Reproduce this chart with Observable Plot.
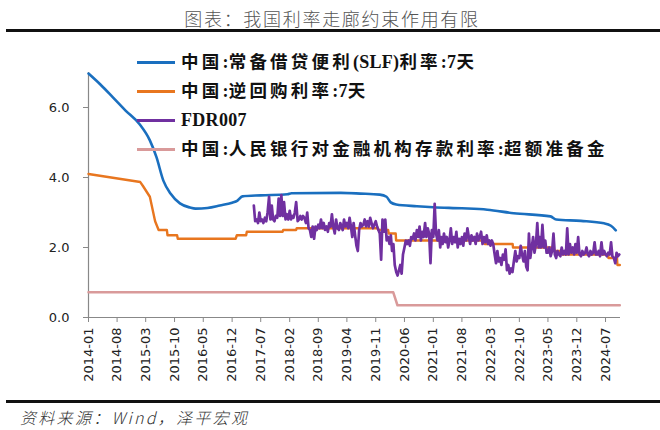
<!DOCTYPE html>
<html>
<head>
<meta charset="utf-8">
<script src="https://cdn.jsdelivr.net/npm/d3@7"></script>
<script src="https://cdn.jsdelivr.net/npm/@observablehq/plot@0.6"></script>
<style>
  html, body { margin: 0; padding: 0; background: #fff; }
  #wrap { position: relative; width: 660px; height: 430px; overflow: hidden; background: #fff; }
  #title { position: absolute; left: 0; width: 664px; top: 6px; text-align: center; font-family: "Noto Sans CJK SC", sans-serif; font-weight: 300; font-size: 18px; letter-spacing: 1.7px; color: #555; line-height: 24px; }
  .rule { position: absolute; left: 6px; width: 654px; height: 3px; background: #111; }
  #chart { position: absolute; left: 0; top: 34px; }
  #legend { position: absolute; left: 0; top: 0; }
  .lg-line { position: absolute; left: 137px; width: 38px; height: 3px; }
  .lg-text { position: absolute; left: 181px; font-family: "Liberation Serif", "Noto Sans CJK SC", serif; font-weight: bold; font-size: 18px; line-height: 22px; color: #111; white-space: nowrap; }
  .cjk { letter-spacing: 3.2px; font-size: 17.5px; }
  .lat { letter-spacing: 0.3px; }
  #source { position: absolute; left: 20px; top: 406px; font-family: "Noto Sans CJK SC", sans-serif; font-style: italic; font-weight: 300; font-size: 16px; letter-spacing: 2.3px; color: #333; line-height: 22px; }
</style>
</head>
<body>
<div id="wrap">
  <div id="title">图表：我国利率走廊约束作用有限</div>
  <div class="rule" style="top:29px"></div>
  <div id="chart"></div>
  <div id="legend"></div>
  <div class="rule" style="top:400px"></div>
  <div id="source">资料来源：Wind，泽平宏观</div>
</div>
<script>
// ---------- data ----------
const seriesNames = [
  "中国:常备借贷便利(SLF)利率:7天",
  "中国:逆回购利率:7天",
  "FDR007",
  "中国:人民银行对金融机构存款利率:超额准备金"
];
const seriesColors = ["#1A6FBF", "#E8761F", "#7030A0", "#D99A9A"];

const xTickLabels = ["2014-01","2014-08","2015-03","2015-10","2016-05","2016-12","2017-07",
  "2018-02","2018-09","2019-04","2019-11","2020-06","2021-01","2021-08","2022-03",
  "2022-10","2023-05","2023-12","2024-07"];
const yTicks = [0, 2, 4, 6];

// SLF 7-day
const slfDates = ["2014-01-01","2014-04-01","2014-07-01","2014-10-01","2015-01-15","2015-04-01",
  "2015-05-20","2015-07-10","2015-09-01","2015-11-10","2016-01-25","2016-03-05","2016-06-01",
  "2016-09-01","2016-12-01","2017-01-10","2017-02-15","2017-07-01","2018-01-15","2018-02-15",
  "2019-02-15","2019-07-10","2019-12-01","2020-01-20","2020-02-20","2020-04-01","2020-09-01",
  "2021-01-01","2021-08-01","2022-02-05","2022-08-20","2023-05-20","2023-07-01","2024-01-01",
  "2024-06-20","2024-08-10","2024-09-15"];
const slfValues = [6.97,6.65,6.29,5.92,5.52,5.06,4.58,3.91,3.54,3.26,3.14,3.11,3.13,
  3.20,3.28,3.34,3.46,3.49,3.52,3.55,3.56,3.54,3.51,3.45,3.29,3.23,3.18,
  3.15,3.12,3.08,2.98,2.89,2.80,2.76,2.69,2.62,2.49];

// Reverse repo 7-day
const rrDates = ["2014-01-01","2015-01-20","2015-02-10","2015-04-01","2015-05-10","2015-06-05",
  "2015-08-05","2015-08-10","2015-10-20","2015-10-25","2016-12-27","2017-01-05","2017-03-15",
  "2017-03-20","2017-12-10","2017-12-15","2018-03-20","2018-03-25","2019-11-15","2019-11-20",
  "2020-02-01","2020-02-05","2020-03-28","2020-03-31","2022-01-15","2022-01-18","2022-08-12",
  "2022-08-15","2023-06-10","2023-06-13","2023-08-12","2023-08-15","2024-07-20","2024-07-22",
  "2024-09-24","2024-09-27","2024-10-15"];
const rrValues = [4.10,3.87,3.75,3.45,2.75,2.50,2.50,2.35,2.35,2.25,2.25,2.35,2.35,
  2.45,2.45,2.50,2.50,2.55,2.55,2.50,2.50,2.40,2.40,2.20,2.20,2.10,2.10,
  2.00,2.00,1.90,1.90,1.80,1.80,1.70,1.70,1.50,1.50];

// Excess reserve rate
const irerDates = ["2014-01-01","2020-03-10","2020-04-10","2024-10-15"];
const irerValues = [0.72, 0.72, 0.35, 0.35];

// FDR007, three readings per month (days 1, 11, 21) from 2017-05-11
const fdrStart = "2017-05";
const fdrValues = [
  3.20, 2.75,
  2.80, 2.70, 3.00,   2.75, 2.80, 2.70,   2.85, 2.75, 3.00,   3.45, 2.80, 3.20,
  2.80, 2.75, 2.90,   2.85, 3.40, 2.90,   3.50, 2.90, 3.30,
  2.80, 2.95, 2.80,   3.05, 2.80, 2.90,   2.85, 3.00, 3.30,   2.75, 2.80, 2.90,
  2.80, 2.90, 2.85,   2.70, 3.00, 2.55,   2.50, 2.30, 2.60,   2.25, 2.60, 2.50,
  2.65, 2.55, 2.80,   2.55, 2.70, 2.50,   2.60, 2.45, 2.70,   2.60, 2.95, 2.60,
  2.40, 2.80, 2.55,   2.50, 2.70, 2.60,   2.50, 2.80, 2.60,   2.70, 2.55, 2.85,
  2.60, 2.30, 2.70,   2.35, 2.05, 1.90,   2.50, 2.70, 2.60,   2.65, 2.80, 2.60,
  2.75, 2.60, 2.85,   2.70, 2.55, 2.65,   2.75, 2.60, 2.50,   2.40, 1.65, 2.80,
  2.45, 2.80, 2.20,   2.30, 2.10, 2.35,   1.90, 2.10, 1.50,   1.30, 1.20, 1.35,
  1.50, 1.25, 1.80,   2.00, 2.20, 2.10,   2.20, 2.05, 2.30,   2.25, 2.40, 2.20,
  2.50, 2.30, 2.60,   2.20, 2.45, 2.30,   2.70, 2.30, 2.55,   2.40, 1.55, 2.50,
  2.30, 3.25, 2.40,   2.20, 2.50, 2.00,   2.30, 2.10, 2.40,   2.15, 2.30, 2.00,
  2.20, 2.55, 2.10,   2.30, 2.15, 2.45,   2.00, 2.25, 2.10,   2.30, 2.05, 2.40,
  2.20, 2.55, 2.30,   2.10, 2.35, 2.20,   2.30, 2.10, 2.40,   2.20, 2.30, 2.45,
  2.10, 2.30, 2.15,   2.35, 2.10, 2.20,   2.05, 2.20, 2.10,   1.80, 1.55, 1.90,
  1.60, 1.70, 1.50,   1.80, 1.65, 1.95,   1.35, 1.50, 1.25,   1.40, 1.30, 1.60,
  1.90, 1.60, 1.75,   1.70, 2.05, 1.80,   1.60, 1.90, 1.45,   1.35, 2.40, 1.70,
  2.00, 2.30, 1.85,   2.10, 2.70, 2.00,   2.30, 2.00, 2.65,   2.00, 2.20, 1.85,
  1.85, 2.00, 1.75,   1.90, 2.40, 1.80,   1.70, 1.90, 1.80,   1.75, 2.00, 1.80,
  1.90, 1.80, 2.55,   1.80, 2.10, 1.85,   2.00, 1.80, 2.10,   1.85, 2.30, 1.80,
  1.75, 1.90, 1.80,   1.85, 2.00, 1.80,   1.75, 1.90, 1.80,   1.85, 2.15, 1.80,
  1.80, 1.90, 1.75,   2.15, 1.80, 1.90,   1.80, 1.75, 1.85,   1.80, 2.15, 1.75,
  1.70, 1.55, 1.85,   1.75, 1.80
];

// ---------- build tables ----------
const parse = d3.utcParse("%Y-%m-%d");
const parseM = d3.utcParse("%Y-%m");
const rows = [];
slfDates.forEach((d, i) => rows.push({date: parse(d), value: slfValues[i], s: seriesNames[0]}));
rrDates.forEach((d, i) => rows.push({date: parse(d), value: rrValues[i], s: seriesNames[1]}));
const fs = parseM(fdrStart);
fdrValues.forEach((v, i) => {
  const k = i + 1;
  const dt = new Date(Date.UTC(fs.getUTCFullYear(), fs.getUTCMonth() + Math.floor(k / 3), 1 + 10 * (k % 3)));
  rows.push({date: dt, value: v, s: seriesNames[2]});
});
irerDates.forEach((d, i) => rows.push({date: parse(d), value: irerValues[i], s: seriesNames[3]}));

const xStart = parse("2014-01-01"), xEnd = parse("2024-10-20");
const tickDates = xTickLabels.map(parseM);

const chart = Plot.plot({
  width: 660,
  height: 363,
  marginLeft: 88,
  marginRight: 40,
  marginTop: 38,
  marginBottom: 80,
  style: {fontFamily: "DejaVu Sans, sans-serif", fontSize: "13px", color: "#222", background: "transparent"},
  x: {type: "utc", domain: [xStart, xEnd]},
  y: {domain: [0, 7]},
  marks: [
    Plot.axisY({ticks: yTicks, tickFormat: d => d.toFixed(1), tickSize: 5, tickPadding: 14, stroke: "#888", label: null}),
    Plot.axisX({ticks: tickDates, tickFormat: d3.utcFormat("%Y-%m"), tickRotate: -90, tickSize: 5, tickPadding: 5, stroke: "#888", label: null}),
    Plot.ruleX([xStart], {y1: 0, y2: 7, stroke: "#888", strokeWidth: 1.2}),
    Plot.ruleY([0], {stroke: "#888", strokeWidth: 1.2}),
    Plot.line(rows.filter(d => d.s === seriesNames[3]), {x: "date", y: "value", stroke: seriesColors[3], strokeWidth: 2.5}),
    Plot.line(rows.filter(d => d.s === seriesNames[0]), {x: "date", y: "value", stroke: seriesColors[0], strokeWidth: 2.6, curve: "monotone-x"}),
    Plot.line(rows.filter(d => d.s === seriesNames[1]), {x: "date", y: "value", stroke: seriesColors[1], strokeWidth: 2.4}),
    Plot.line(rows.filter(d => d.s === seriesNames[2]), {x: "date", y: "value", stroke: seriesColors[2], strokeWidth: 2.7, strokeLinejoin: "round"})
  ]
});
document.getElementById("chart").appendChild(chart);

// ---------- legend ----------
const legend = document.getElementById("legend");
const rowY = [62, 91, 120, 149];
seriesNames.forEach((name, i) => {
  const ln = document.createElement("div");
  ln.className = "lg-line";
  ln.style.top = (rowY[i] - 1.5) + "px";
  ln.style.background = seriesColors[i];
  legend.appendChild(ln);
  const tx = document.createElement("div");
  tx.className = "lg-text";
  tx.style.top = (rowY[i] - 11) + "px";
  (name.match(/[\u4e00-\u9fff]+|[^\u4e00-\u9fff]+/g) || []).forEach(run => {
    const sp = document.createElement("span");
    sp.className = /[\u4e00-\u9fff]/.test(run) ? "cjk" : "lat";
    sp.textContent = run;
    tx.appendChild(sp);
  });
  legend.appendChild(tx);
});
</script>
</body>
</html>
